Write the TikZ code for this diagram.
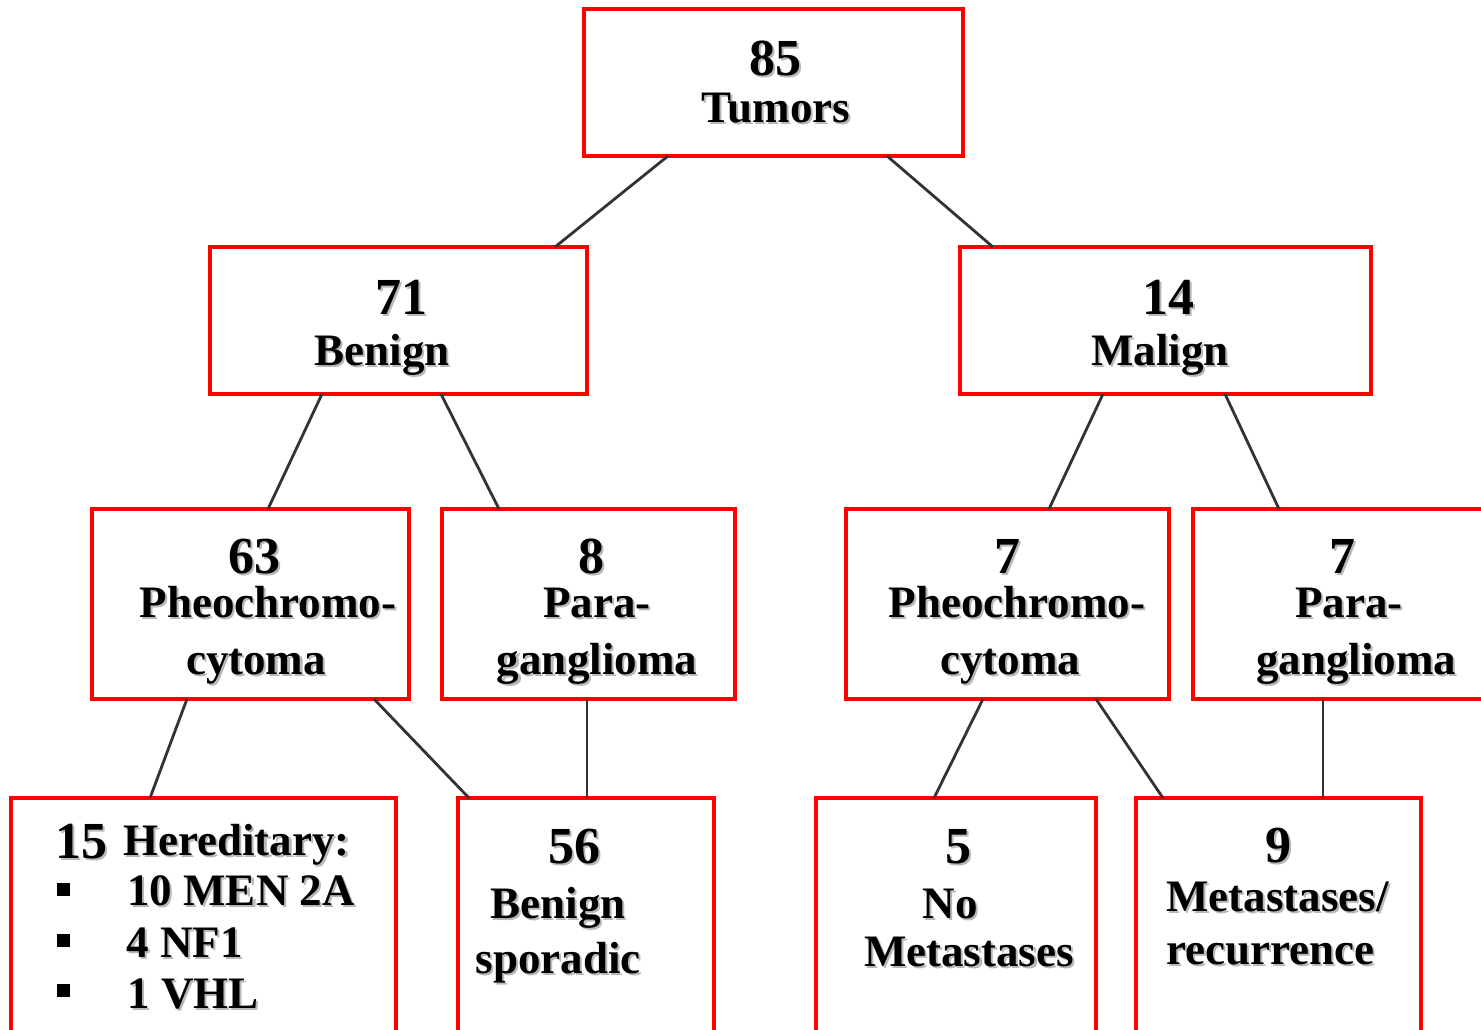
\documentclass[tikz,border=0pt]{standalone}
\usepackage{fontspec}
\setmainfont{Liberation Serif}
\usetikzlibrary{calc}
\definecolor{boxred}{HTML}{FF0000}
\definecolor{linegray}{HTML}{333333}
\newcommand\shtext[1]{\leavevmode\rlap{\kern1.6pt\raisebox{-1.6pt}{\color{black!28}#1}}#1}
\tikzset{
  box/.style={draw=boxred, line width=3pt, rectangle, inner sep=0pt, outer sep=0pt},
  conn/.style={draw=linegray, line width=2.1pt},
  word/.style={inner sep=0pt, anchor=base, font=\bfseries\fontsize{33.75}{40}\selectfont},
  num/.style={inner sep=0pt, anchor=base, font=\bfseries\fontsize{39}{46}\selectfont},
  bullet/.style={fill=black, inner sep=0pt, minimum size=9.75pt, rectangle},
}
\begin{document}
\begin{tikzpicture}[x=0.75pt, y=-0.75pt]
\useasboundingbox (0,0) rectangle (1481,1029);
\clip (0,0) rectangle (1481,1029);
\fill[white] (0,0) rectangle (1481,1029);
% boxes
\node[box, minimum width=379*0.75pt, minimum height=147*0.75pt] (top) at (773.5,82.5) {};
\node[box, minimum width=377*0.75pt, minimum height=147*0.75pt] (benign) at (398.5,320.5) {};
\node[box, minimum width=411*0.75pt, minimum height=147*0.75pt] (malign) at (1165.5,320.5) {};
\node[box, minimum width=317*0.75pt, minimum height=190*0.75pt] (pheoL) at (250.5,604) {};
\node[box, minimum width=293*0.75pt, minimum height=190*0.75pt] (paraL) at (588.5,604) {};
\node[box, minimum width=323*0.75pt, minimum height=190*0.75pt] (pheoR) at (1007.5,604) {};
\node[box, minimum width=307*0.75pt, minimum height=190*0.75pt] (paraR) at (1346.5,604) {};
\node[box, minimum width=385*0.75pt, minimum height=262*0.75pt] (hered) at (203.5,929) {};
\node[box, minimum width=256*0.75pt, minimum height=262*0.75pt] (spor) at (586,929) {};
\node[box, minimum width=280*0.75pt, minimum height=262*0.75pt] (nomet) at (956,929) {};
\node[box, minimum width=285*0.75pt, minimum height=262*0.75pt] (met) at (1278.5,929) {};
% connectors
\draw[conn] ($(top.south)+(-105.5,0)$) -- ($(benign.north)+(156.5,0)$);
\draw[conn] ($(top.south)+(113.5,0)$) -- ($(malign.north)+(-172.5,0)$);
\draw[conn] ($(benign.south)+(-76.5,0)$) -- ($(pheoL.north)+(17.5,0)$);
\draw[conn] ($(benign.south)+(42.5,0)$) -- ($(paraL.north)+(-89.5,0)$);
\draw[conn] ($(malign.south)+(-62.5,0)$) -- ($(pheoR.north)+(41.5,0)$);
\draw[conn] ($(malign.south)+(59.5,0)$) -- ($(paraR.north)+(-67.5,0)$);
\draw[conn] ($(pheoL.south)+(-63.5,0)$) -- ($(hered.north)+(-53.5,0)$);
\draw[conn] ($(pheoL.south)+(123.5,0)$) -- ($(spor.north)+(-117,0)$);
\draw[conn] ($(paraL.south)+(-1.5,0)$) -- ($(spor.north)+(1,0)$);
\draw[conn] ($(pheoR.south)+(-24.5,0)$) -- ($(nomet.north)+(-22,0)$);
\draw[conn] ($(pheoR.south)+(88.5,0)$) -- ($(met.north)+(-115.5,0)$);
\draw[conn] ($(paraR.south)+(-23.5,0)$) -- ($(met.north)+(44.5,0)$);
% texts
\node[num] (n85) at (775,75) {\shtext{85}};
\node[word] (w1) at (776,122) {\shtext{Tumors}};
\node[num] (n71) at (401,314) {\shtext{71}};
\node[word] (w2) at (382,365) {\shtext{Benign}};
\node[num] (n14) at (1168,314) {\shtext{14}};
\node[word] (w3) at (1160,365) {\shtext{Malign}};
\node[num] (n63) at (254,573) {\shtext{63}};
\node[word] (w4) at (268,617) {\shtext{Pheochromo-}};
\node[word] (w5) at (256,674) {\shtext{cytoma}};
\node[num] (n8) at (591,573) {\shtext{8}};
\node[word] (w6) at (597,617) {\shtext{Para-}};
\node[word] (w7) at (597,674) {\shtext{ganglioma}};
\node[num] (n7a) at (1007,573) {\shtext{7}};
\node[word] (w8) at (1017,617) {\shtext{Pheochromo-}};
\node[word] (w9) at (1010,674) {\shtext{cytoma}};
\node[num] (n7b) at (1342,573) {\shtext{7}};
\node[word] (w10) at (1349,617) {\shtext{Para-}};
\node[word] (w11) at (1356,674) {\shtext{ganglioma}};
\node[num, anchor=base west] (n15) at (55,858) {\shtext{15}};
\node[word, anchor=base west] (w12) at (123,855) {\shtext{Hereditary:}};
\node[bullet] (b1) at (63.5,889.5) {};
\node[bullet] (b2) at (63.5,940) {};
\node[bullet] (b3) at (63.5,990) {};
\node[word, anchor=base west] (w13) at (127,905) {\shtext{10 MEN 2A}};
\node[word, anchor=base west] (w14) at (126,957) {\shtext{4 NF1}};
\node[word, anchor=base west] (w15) at (127,1008) {\shtext{1 VHL}};
\node[num] (n56) at (574,863) {\shtext{56}};
\node[word] (w16) at (558,918) {\shtext{Benign}};
\node[word] (w17) at (558,973) {\shtext{sporadic}};
\node[num] (n5) at (958,863) {\shtext{5}};
\node[word] (w18) at (950,918) {\shtext{No}};
\node[word] (w19) at (969,966) {\shtext{Metastases}};
\node[num] (n9) at (1278,862) {\shtext{9}};
\node[word, anchor=base west] (w20) at (1166,911) {\shtext{Metastases/}};
\node[word, anchor=base west] (w21) at (1166,964) {\shtext{recurrence}};
\end{tikzpicture}
\end{document}
